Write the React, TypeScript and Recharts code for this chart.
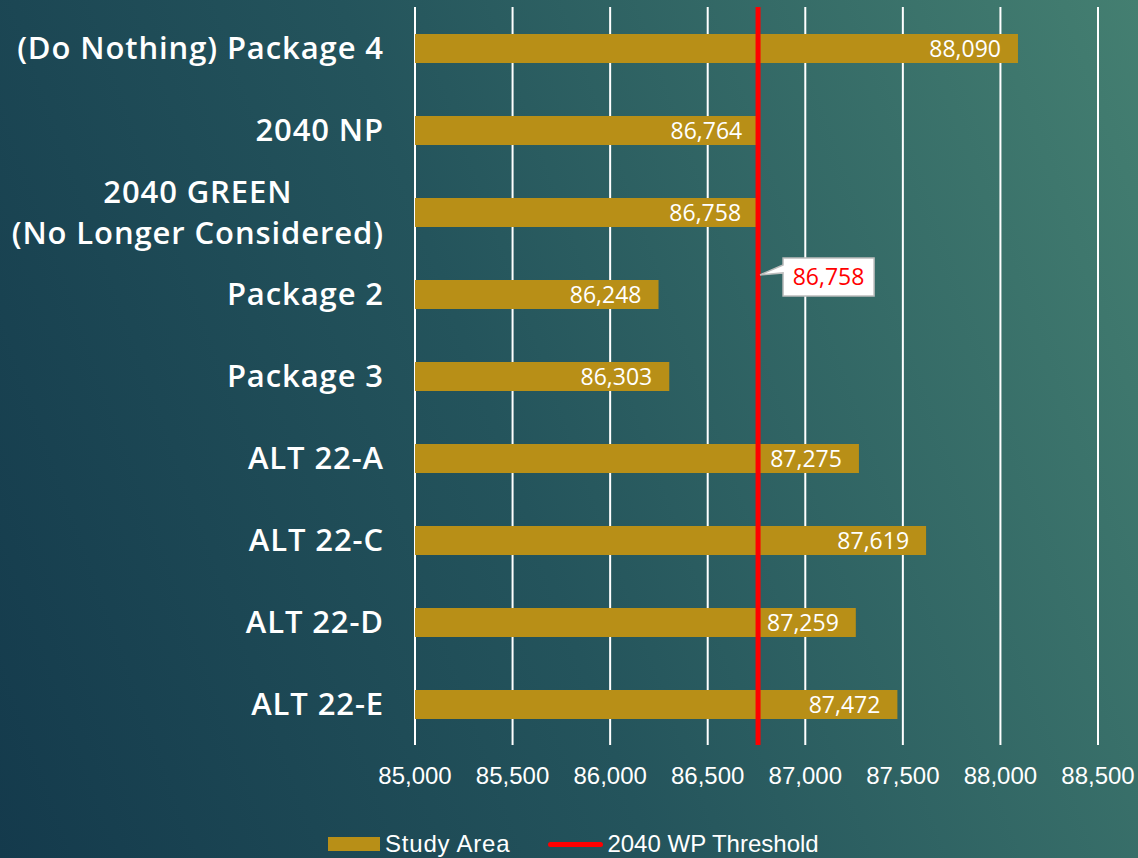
import { BarChart, Bar, XAxis, YAxis, CartesianGrid, ReferenceLine, LabelList, Legend } from "recharts";

const categories = [
  "(Do Nothing) Package 4",
  "2040 NP",
  "2040 GREEN\n(No Longer Considered)",
  "Package 2",
  "Package 3",
  "ALT 22-A",
  "ALT 22-C",
  "ALT 22-D",
  "ALT 22-E",
];
const studyArea = [88090, 86764, 86758, 86248, 86303, 87275, 87619, 87259, 87472];
const threshold = 86758;
const xTicks = [85000, 85500, 86000, 86500, 87000, 87500, 88000, 88500];
const seriesNames = ["Study Area", "2040 WP Threshold"];

const data = categories.map((name, i) => ({ name, value: studyArea[i] }));

const BAR_COLOR = "#b88f17";
const RED = "#ff0000";
const CAT_SIZE = 31;
const CAT_WEIGHT = 600;
const CAT_SPACING = 0.9;

const fmt = (v: number) => v.toLocaleString("en-US");

let ctx: CanvasRenderingContext2D | null = null;
function measure(text: string) {
  if (!ctx) ctx = document.createElement("canvas").getContext("2d");
  if (!ctx) return text.length * 16;
  ctx.font = `${CAT_WEIGHT} ${CAT_SIZE}px "Open Sans"`;
  return ctx.measureText(text).width + text.length * CAT_SPACING;
}

function CategoryTick({ x, y, payload }: any) {
  const lines = String(payload.value).split("\n");
  const common = {
    fill: "#ffffff",
    fontSize: CAT_SIZE,
    fontWeight: CAT_WEIGHT,
    fontFamily: "Open Sans",
    letterSpacing: CAT_SPACING,
  };
  if (lines.length === 1) {
    return (
      <text x={x} y={y} dy="0.36em" textAnchor="end" {...common}>
        {lines[0]}
      </text>
    );
  }
  const w = Math.max(...lines.map(measure));
  const cx = x - w / 2;
  const lh = 41;
  return (
    <text textAnchor="middle" {...common}>
      {lines.map((l, i) => (
        <tspan key={i} x={cx} y={y + (i - (lines.length - 1) / 2) * lh} dy="0.36em">
          {l}
        </tspan>
      ))}
    </text>
  );
}

function ValueLabel(p: any) {
  return (
    <text
      x={p.x + p.width - 17}
      y={p.y + p.height / 2}
      dy="0.36em"
      textAnchor="end"
      fill="#ffffff"
      fontSize={23}
      fontFamily="Open Sans"
    >
      {fmt(p.value)}
    </text>
  );
}

function ThresholdCallout({ viewBox }: any) {
  const { x, y, height } = viewBox;
  const tipX = x + 2;
  const tipY = y + height * 0.363;
  const bx = x + 25;
  const by = tipY - 17;
  const bw = 91;
  const bh = 38;
  const d = `M${bx},${by} H${bx + bw} V${by + bh} H${bx} V${by + 15} L${tipX},${tipY} L${bx},${by + 7} Z`;
  return (
    <g>
      <path d={d} fill="#ffffff" stroke="#bdbdbd" strokeWidth={1.5} />
      <text
        x={bx + bw / 2}
        y={by + bh / 2}
        dy="0.36em"
        textAnchor="middle"
        fill={RED}
        fontSize={23}
        fontFamily="Open Sans"
      >
        {fmt(threshold)}
      </text>
    </g>
  );
}

function LegendContent() {
  const font = { fontFamily: "Liberation Sans", fontSize: 24, color: "#ffffff" };
  return (
    <div style={{ display: "flex", alignItems: "center", height: 34, paddingLeft: 328, paddingTop: 6, boxSizing: "border-box", ...font }}>
      <span style={{ display: "inline-block", width: 52, height: 14, background: BAR_COLOR, marginRight: 5 }} />
      <span style={{ marginRight: 38, letterSpacing: 0.8 }}>{seriesNames[0]}</span>
      <span style={{ display: "inline-block", width: 55, height: 5, borderRadius: 3, background: RED, marginRight: 4 }} />
      <span>{seriesNames[1]}</span>
    </div>
  );
}

export default function App() {
  return (
    <div
      style={{
        width: 1138,
        height: 858,
        background: "linear-gradient(70deg, #143a4c 0%, #24545c 45%, #447f71 100%)",
      }}
    >
      <style>{"body{margin:0}"}</style>
      <BarChart
        width={1138}
        height={858}
        data={data}
        layout="vertical"
        margin={{ top: 7, right: 40, left: 0, bottom: 0 }}
        barCategoryGap={0}
      >
        <CartesianGrid horizontal={false} vertical stroke="#ffffff" strokeWidth={2} />
        <XAxis
          type="number"
          domain={[85000, 88500]}
          ticks={xTicks}
          allowDataOverflow
          tickFormatter={fmt}
          axisLine={false}
          tickLine={false}
          tickSize={0}
          tickMargin={22}
          height={79}
          tick={{ fill: "#ffffff", fontSize: 24, fontFamily: "Liberation Sans" }}
        />
        <YAxis
          type="category"
          dataKey="name"
          width={415}
          axisLine={false}
          tickLine={false}
          tickSize={0}
          tickMargin={31}
          interval={0}
          tick={<CategoryTick />}
        />
        <Legend
          verticalAlign="bottom"
          content={<LegendContent />}
          wrapperStyle={{ height: 34, width: 1138, left: 0 }}
        />
        <Bar dataKey="value" name={seriesNames[0]} fill={BAR_COLOR} barSize={29} isAnimationActive={false}>
          <LabelList dataKey="value" content={<ValueLabel />} />
        </Bar>
        <ReferenceLine x={threshold} stroke={RED} strokeWidth={5} label={<ThresholdCallout />} />
      </BarChart>
    </div>
  );
}
